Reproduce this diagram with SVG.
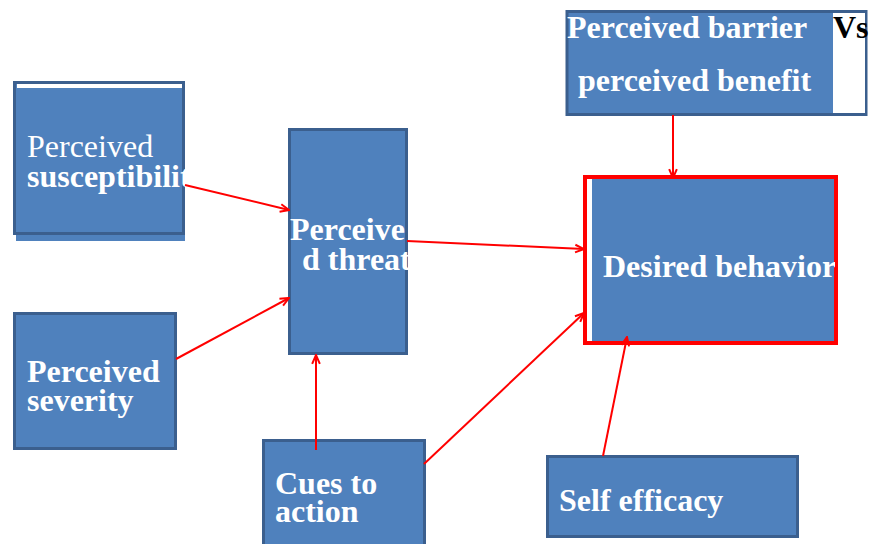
<svg xmlns="http://www.w3.org/2000/svg" width="869" height="544" viewBox="0 0 869 544">
<defs>
<style>
.box{fill:#4f81bd;stroke:#3b5f8e;stroke-width:3}
.t{font-family:"Liberation Serif","Times New Roman",serif;font-size:32px;fill:#ffffff;font-weight:bold}
.r{font-weight:normal}
.c{stroke:#ff0000;stroke-width:2;fill:none;marker-end:url(#ah)}
</style>
<marker id="ah" viewBox="0 0 10 10" refX="9" refY="5" markerWidth="11" markerHeight="11" orient="auto" markerUnits="userSpaceOnUse">
<path d="M1,1.5 L9,5 L1,8.5" fill="none" stroke="#ff0000" stroke-width="1.8"/>
</marker>
<clipPath id="c1"><rect x="14" y="82" width="171" height="153"/></clipPath>
<clipPath id="c3"><rect x="289" y="129" width="119" height="226"/></clipPath>
<clipPath id="c5"><rect x="585" y="177" width="250" height="166"/></clipPath>
</defs>
<g id="susceptibility">
<rect x="16" y="235" width="169" height="6" fill="#4f81bd"/>
<rect class="box" x="14.5" y="82.5" width="169" height="151"/>
<rect x="17" y="84" width="165" height="4" fill="#ffffff"/>
<g clip-path="url(#c1)">
<text class="t r" x="27" y="157">Perceived</text>
<text class="t" x="27" y="187">susceptibilit</text>
</g>
</g>
<g id="severity">
<rect class="box" x="14.5" y="313.5" width="161" height="135"/>
<text class="t" x="27" y="382">Perceived</text>
<text class="t" x="27" y="411">severity</text>
</g>
<g id="threat">
<rect class="box" x="289.5" y="129.5" width="117" height="224"/>
<g clip-path="url(#c3)">
<text class="t" x="290" y="240">Perceive</text>
<text class="t" x="302" y="270">d threat</text>
</g>
</g>
<g id="barrier">
<rect class="box" x="567" y="11.5" width="299" height="103"/>
<rect x="833" y="13" width="32" height="100" fill="#ffffff"/>
<text class="t" x="567" y="38">Perceived barrier</text>
<text class="t" x="833" y="38" style="fill:#000000">Vs</text>
<text class="t" x="578" y="91">perceived benefit</text>
</g>
<g id="desired">
<rect x="585" y="177" width="251" height="166" fill="#4f81bd" stroke="#ff0000" stroke-width="4"/>
<rect x="587" y="179" width="5" height="162" fill="#ffffff"/>
<g clip-path="url(#c5)">
<text class="t" x="603" y="277">Desired behavior</text>
</g>
</g>
<g id="cues">
<rect class="box" x="263.5" y="440.5" width="161" height="110"/>
<text class="t" x="275" y="494">Cues to</text>
<text class="t" x="275" y="522">action</text>
</g>
<g id="selfefficacy">
<rect class="box" x="547.5" y="456.5" width="250" height="80"/>
<text class="t" x="559" y="511">Self efficacy</text>
</g>
<g id="connectors">
<line class="c" x1="185" y1="185" x2="289" y2="210"/>
<line class="c" x1="176" y1="359" x2="289" y2="298"/>
<line class="c" x1="316" y1="450" x2="316" y2="355"/>
<line class="c" x1="407" y1="241" x2="584" y2="249"/>
<line class="c" x1="424" y1="464" x2="584" y2="313"/>
<line class="c" x1="603" y1="456" x2="627" y2="337"/>
<line class="c" x1="673" y1="115" x2="673" y2="178"/>
</g>
</svg>
